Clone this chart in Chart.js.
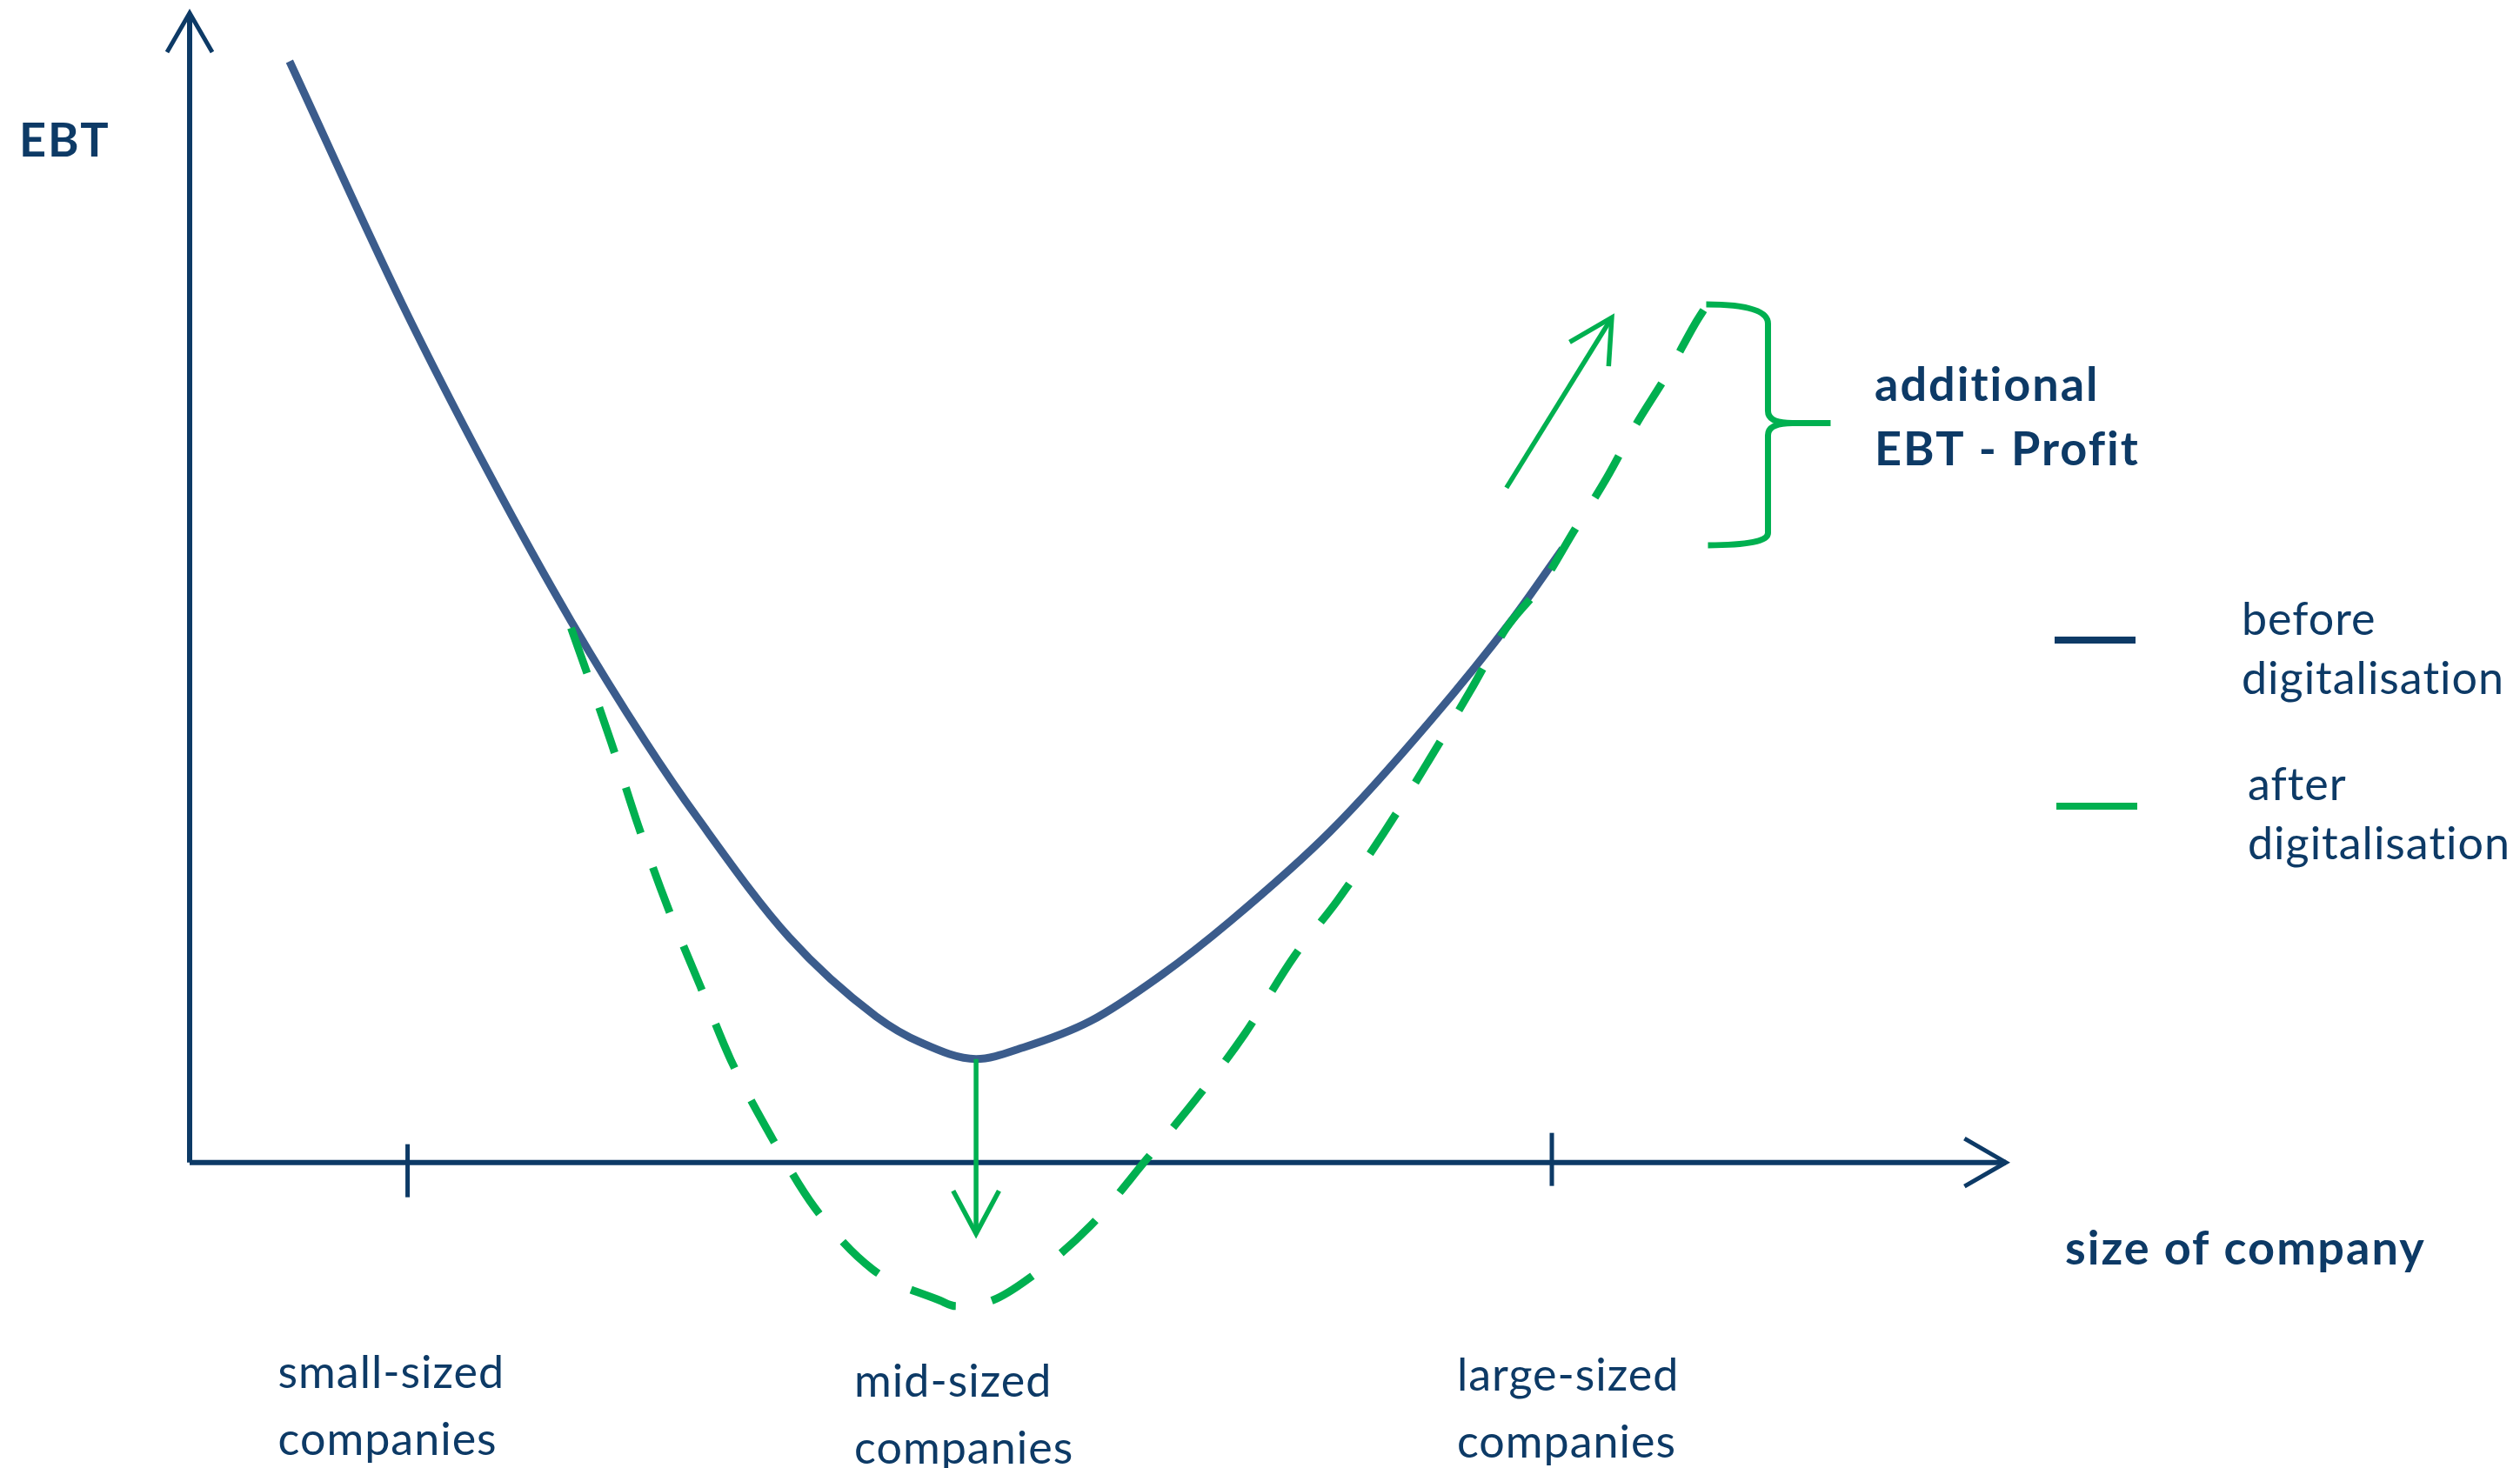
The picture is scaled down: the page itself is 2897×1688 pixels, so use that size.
<!DOCTYPE html>
<html>
<head>
<meta charset="utf-8">
<script src="https://cdn.jsdelivr.net/npm/chart.js@4.4.1/dist/chart.umd.min.js"></script>
<style>
  html, body { margin: 0; padding: 0; background: #ffffff; }
  #wrap { width: 2897px; height: 1688px; position: relative; }
</style>
</head>
<body>
<div id="wrap"><canvas id="ebtChart" width="2897" height="1688"></canvas></div>
<script>
// company size (x) and EBT (y), arbitrary units
var beforeX = [5.5, 11.7, 16.6, 21.0, 25.1, 28.0, 33.0, 37.8, 40.3, 43.3, 45.9, 49.6, 53.5, 57.3, 62.8, 68.3, 72.9, 75.6];
var beforeY = [95.8, 74.7, 59.6, 47.1, 36.6, 29.9, 19.6, 12.7, 10.4, 9.0, 10.0, 12.3, 16.3, 21.0, 28.8, 38.4, 47.4, 53.4];

var afterX = [21.0, 23.2, 24.7, 26.3, 28.1, 29.8, 32.0, 34.4, 37.6, 41.3, 42.2, 44.2, 46.2, 49.6, 52.7,
              55.7, 58.1, 60.8, 63.2, 65.8, 68.2, 70.5, 72.5, 74.4, 76.2, 78.0, 79.6, 81.4, 82.9, 83.5];
var afterY = [46.5, 36.6, 29.3, 22.3, 15.4, 8.9, 2.3, -3.9, -9.3, -12.0, -12.5, -12.0, -10.1, -5.5, 0.3,
              6.1, 11.2, 17.9, 22.8, 28.8, 34.9, 41.0, 46.5, 50.2, 54.9, 59.5, 64.1, 68.7, 73.0, 74.5];

// categories along the size axis
var categories = [['small-sized', 'companies'], ['mid-sized', 'companies'], ['large-sized', 'companies']];
var categoryX = [12, 43.3, 75];
var tickX = [12, 75];

// arrows: [x1, y1, x2, y2]
var arrowDown = [43.3, 9.0, 43.3, -6.2];
var arrowUp = [72.5, 58.7, 78.3, 73.5];

var legendLabels = [['before', 'digitalisation'], ['after', 'digitalisation']];

var navy = '#0d3a66';
var blue = '#3b5c8c';
var green = '#00b050';
var font = 'Lato, "Noto Sans", sans-serif';

function toPoints(xs, ys) {
    return xs.map(function (x, i) { return { x: x, y: ys[i] }; });
}

function arrowHead(ctx, x1, y1, x2, y2, len, ang) {
    var a = Math.atan2(y2 - y1, x2 - x1);
    ctx.beginPath();
    ctx.moveTo(x2 - len * Math.cos(a - ang), y2 - len * Math.sin(a - ang));
    ctx.lineTo(x2, y2);
    ctx.lineTo(x2 - len * Math.cos(a + ang), y2 - len * Math.sin(a + ang));
    ctx.stroke();
}

// axes with arrow heads and the two tick marks
var axesPlugin = {
    id: 'axes',
    beforeDatasetsDraw: function (chart) {
        var ctx = chart.ctx, xs = chart.scales.x, ys = chart.scales.y;
        var x0 = xs.getPixelForValue(0), y0 = ys.getPixelForValue(0);
        var xEnd = xs.getPixelForValue(100), yEnd = ys.getPixelForValue(100);
        ctx.save();
        ctx.strokeStyle = navy;
        ctx.lineWidth = 6;
        ctx.lineCap = 'butt';
        ctx.beginPath();
        ctx.moveTo(x0, y0);
        ctx.lineTo(x0, yEnd);
        ctx.moveTo(x0, y0);
        ctx.lineTo(xEnd, y0);
        ctx.stroke();
        ctx.lineWidth = 5;
        arrowHead(ctx, x0, y0, x0, yEnd, 52, Math.PI / 6);
        arrowHead(ctx, x0, y0, xEnd, y0, 55, Math.PI / 6);
        tickX.forEach(function (v, i) {
            var px = xs.getPixelForValue(v);
            var up = i === 0 ? 21 : 34;
            ctx.beginPath();
            ctx.moveTo(px, y0 - up);
            ctx.lineTo(px, y0 - up + 61);
            ctx.stroke();
        });
        ctx.restore();
    },
    afterDatasetsDraw: function (chart) {
        var ctx = chart.ctx, xs = chart.scales.x, ys = chart.scales.y;
        ctx.save();
        // green arrows
        ctx.strokeStyle = green;
        ctx.lineWidth = 5.5;
        ctx.lineCap = 'butt';
        [arrowDown, arrowUp].forEach(function (a) {
            var x1 = xs.getPixelForValue(a[0]), y1 = ys.getPixelForValue(a[1]);
            var x2 = xs.getPixelForValue(a[2]), y2 = ys.getPixelForValue(a[3]);
            ctx.beginPath();
            ctx.moveTo(x1, y1);
            ctx.lineTo(x2, y2);
            ctx.stroke();
            arrowHead(ctx, x1, y1, x2, y2, 56, 0.49);
        });

        // brace from the end of "after" down to the end of "before"
        var gx = xs.getPixelForValue(afterX[afterX.length - 1]);
        var gy = ys.getPixelForValue(afterY[afterY.length - 1]);
        var by = ys.getPixelForValue(beforeY[beforeY.length - 1]);
        var bx = gx + 71, my = (gy + by) / 2 - 5;
        ctx.lineWidth = 7;
        ctx.lineJoin = 'round';
        ctx.beginPath();
        ctx.moveTo(gx, gy - 2);
        ctx.quadraticCurveTo(bx, gy - 2, bx, gy + 20);
        ctx.lineTo(bx, my - 14);
        ctx.quadraticCurveTo(bx, my, bx + 28, my);
        ctx.lineTo(bx + 72, my);
        ctx.moveTo(bx + 28, my);
        ctx.quadraticCurveTo(bx, my, bx, my + 14);
        ctx.lineTo(bx, by - 18);
        ctx.quadraticCurveTo(bx, by - 4, gx + 2, by - 4);
        ctx.stroke();

        // texts
        ctx.fillStyle = navy;
        ctx.textBaseline = 'alphabetic';
        ctx.textAlign = 'left';
        ctx.font = 'bold 54px ' + font;
        ctx.letterSpacing = '2px';
        ctx.fillText('EBT', 22, 180);
        ctx.fillText('additional', 2155, 461);
        ctx.fillText('EBT - Profit', 2155, 535);
        ctx.fillText('size of company', 2374, 1454);

        ctx.font = '52px ' + font;
        ctx.letterSpacing = '1px';
        var labelShift = [-149, -140, -109];
        var labelBase = [1596, 1606, 1599];
        categories.forEach(function (lines, i) {
            var px = xs.getPixelForValue(categoryX[i]) + labelShift[i];
            ctx.fillText(lines[0], px, labelBase[i]);
            ctx.fillText(lines[1], px, labelBase[i] + 77);
        });

        // legend
        var legendColors = [navy, green];
        var legendY = [736, 927];
        var legendTextX = [2577, 2584];
        var legendBase = [[730, 798], [920, 988]];
        legendLabels.forEach(function (lines, i) {
            ctx.strokeStyle = legendColors[i];
            ctx.lineWidth = 8;
            ctx.beginPath();
            ctx.moveTo(2362 + i * 2, legendY[i]);
            ctx.lineTo(2455 + i * 2, legendY[i]);
            ctx.stroke();
            ctx.fillText(lines[0], legendTextX[i], legendBase[i][0]);
            ctx.fillText(lines[1], legendTextX[i], legendBase[i][1]);
        });
        ctx.restore();
    }
};

var ctx = document.getElementById('ebtChart').getContext('2d');
var myChart = new Chart(ctx, {
    type: 'line',
    data: {
        datasets: [{
            label: 'after digitalisation',
            data: toPoints(afterX, afterY),
            borderColor: green,
            borderWidth: 9,
            borderDash: [55, 42],
            borderCapStyle: 'butt',
            cubicInterpolationMode: 'monotone',
            pointRadius: 0,
            fill: false
        }, {
            label: 'before digitalisation',
            data: toPoints(beforeX, beforeY),
            borderColor: blue,
            borderWidth: 9,
            cubicInterpolationMode: 'monotone',
            pointRadius: 0,
            fill: false
        }]
    },
    options: {
        responsive: false,
        animation: false,
        devicePixelRatio: 1,
        layout: { padding: { left: 218, right: 591, top: 15, bottom: 87 } },
        plugins: { legend: { display: false }, tooltip: { enabled: false } },
        scales: {
            x: { type: 'linear', min: 0, max: 100, display: false },
            y: { type: 'linear', min: -20, max: 100, display: false }
        }
    },
    plugins: [axesPlugin]
});
</script>
</body>
</html>
